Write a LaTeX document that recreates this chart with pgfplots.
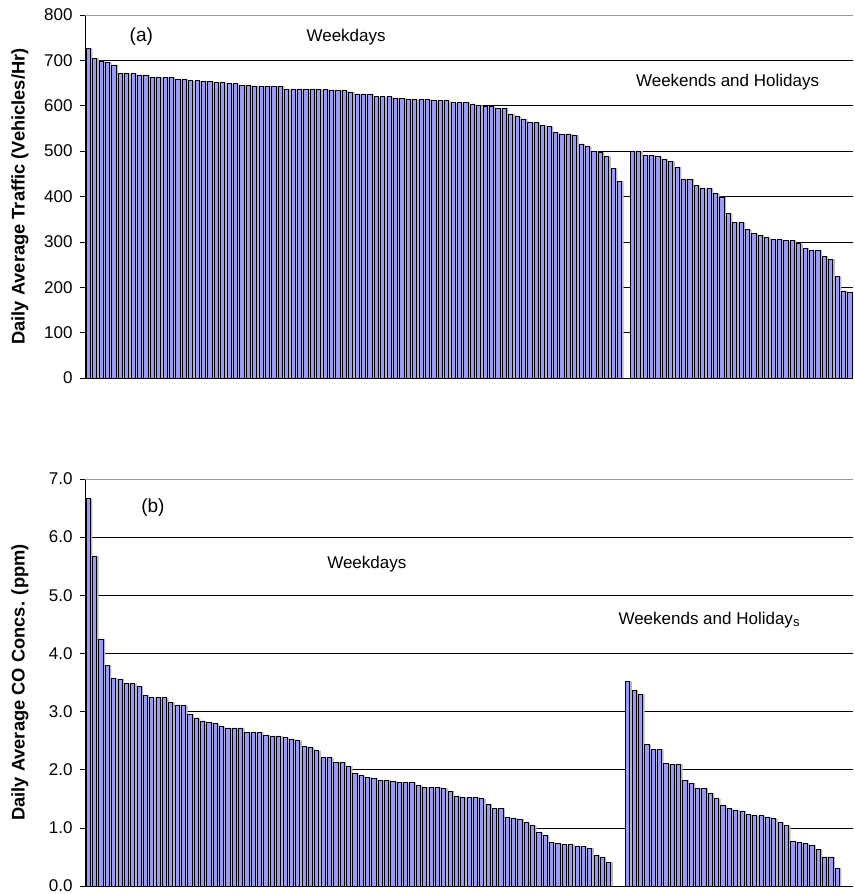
\documentclass[border=0pt]{standalone}
\usepackage{fontspec}
\setmainfont{Liberation Sans}
\usepackage{pgfplots}
\pgfplotsset{compat=1.18}
\usepackage{pgfplotstable}
\definecolor{barfill}{RGB}{153,153,255}
\definecolor{shadowc}{RGB}{185,185,185}

\pgfplotstableread{
x y
1 727
2 705
3 699
4 696
5 690
6 671
7 671
8 671
9 668
10 668
11 663
12 663
13 663
14 662
15 658
16 658
17 655
18 655
19 654
20 653
21 651
22 651
23 649
24 649
25 645
26 645
27 643
28 643
29 643
30 643
31 643
32 637
33 637
34 637
35 637
36 637
37 636
38 636
39 635
40 634
41 633
42 630
43 626
44 626
45 626
46 620
47 620
48 620
49 617
50 617
51 614
52 614
53 614
54 614
55 611
56 611
57 611
58 607
59 607
60 607
61 604
62 601
63 598
64 598
65 595
66 595
67 582
68 576
69 571
70 563
71 563
72 557
73 554
74 541
75 538
76 538
77 535
78 516
79 510
80 500
81 498
82 488
83 462
84 434
86 500
87 500
88 491
89 491
90 488
91 482
92 478
93 465
94 438
95 438
96 424
97 418
98 418
99 407
100 399
101 362
102 343
103 343
104 327
105 318
106 315
107 309
108 305
109 305
110 303
111 303
112 296
113 286
114 281
115 281
116 268
117 262
118 224
119 192
120 189
}\traffic

\pgfplotstableread{
x y
1 6.66
2 5.67
3 4.25
4 3.79
5 3.57
6 3.55
7 3.48
8 3.48
9 3.43
10 3.28
11 3.24
12 3.24
13 3.24
14 3.16
15 3.11
16 3.11
17 2.96
18 2.89
19 2.84
20 2.82
21 2.79
22 2.74
23 2.72
24 2.72
25 2.72
26 2.64
27 2.64
28 2.64
29 2.60
30 2.58
31 2.58
32 2.55
33 2.53
34 2.50
35 2.40
36 2.38
37 2.33
38 2.21
39 2.21
40 2.13
41 2.13
42 2.06
43 1.94
44 1.90
45 1.87
46 1.85
47 1.82
48 1.82
49 1.80
50 1.78
51 1.78
52 1.78
53 1.73
54 1.70
55 1.70
56 1.70
57 1.68
58 1.63
59 1.55
60 1.53
61 1.53
62 1.53
63 1.50
64 1.41
65 1.33
66 1.33
67 1.18
68 1.17
69 1.14
70 1.09
71 1.04
72 0.92
73 0.87
74 0.75
75 0.73
76 0.71
77 0.71
78 0.68
79 0.68
80 0.65
81 0.53
82 0.50
83 0.41
86 3.52
87 3.37
88 3.30
89 2.43
90 2.35
91 2.35
92 2.11
93 2.09
94 2.09
95 1.82
96 1.77
97 1.68
98 1.68
99 1.60
100 1.50
101 1.38
102 1.33
103 1.31
104 1.29
105 1.23
106 1.21
107 1.21
108 1.19
109 1.16
110 1.09
111 1.04
112 0.77
113 0.75
114 0.73
115 0.70
116 0.63
117 0.50
118 0.50
119 0.31
}\co

\pgfplotsset{
  myaxis/.style={
    scale only axis,
    anchor=south west,
    width=768pt,
    axis x line*=bottom,
    axis y line*=left,
    axis line style={black, line width=0.7pt},
    xtick=\empty,
    tick align=outside,
    major tick length=5pt,
    ytick style={black, line width=0.7pt},
    ymajorgrids,
    major grid style={black, line width=0.7pt},
    /pgf/number format/assume math mode=true,
    tick label style={font=\fontsize{17}{17}\selectfont},
    yticklabel style={xshift=-4pt},
    every axis y label/.style={at={(rel axis cs:0,0.5)}, xshift=-65pt, rotate=90, anchor=center, font=\fontsize{18.3}{19}\selectfont\bfseries},
    extra y tick style={major grid style={gray!80, line width=0.7pt}},
  },
}

\begin{document}
\begin{tikzpicture}
\path[use as bounding box] (0,0) rectangle (854pt,894pt);

% Panel (a)
\begin{axis}[myaxis,
  at={(85pt,516pt)},
  height=363pt,
  xmin=0.5, xmax=120.5,
  ymin=0, ymax=800,
  ytick={0,100,...,700},
  extra y ticks={800},
  ylabel={Daily Average Traffic (Vehicles/Hr)},
]
\addplot[ybar, bar width=4.3pt, bar shift=2.1pt, fill=shadowc, draw=none] table[x=x,y=y] {\traffic};
\addplot[ybar, bar width=4.3pt, bar shift=0pt, fill=barfill, draw=black, line width=0.6pt] table[x=x,y=y] {\traffic};
\node[font=\fontsize{19}{19}\selectfont] at (axis cs:9.3,752) {(a)};
\node[font=\fontsize{17}{17}\selectfont] at (axis cs:41.3,751) {Weekdays};
\node[font=\fontsize{17}{17}\selectfont] at (axis cs:100.9,652) {Weekends and Holidays};
\end{axis}

% Panel (b)
\begin{axis}[myaxis,
  at={(85pt,8pt)},
  height=407pt,
  xmin=0.5, xmax=121.5,
  ymin=0, ymax=7,
  ytick={0,1,...,6},
  extra y ticks={7},
  /pgf/number format/.cd, fixed, fixed zerofill, precision=1, assume math mode=true, /pgfplots/.cd,
  ylabel={Daily Average CO Concs. (ppm)},
]
\addplot[ybar, bar width=4.2pt, bar shift=2.1pt, fill=shadowc, draw=none] table[x=x,y=y] {\co};
\addplot[ybar, bar width=4.2pt, bar shift=0pt, fill=barfill, draw=black, line width=0.6pt] table[x=x,y=y] {\co};
\node[font=\fontsize{19}{19}\selectfont] at (axis cs:11.2,6.51) {(b)};
\node[font=\fontsize{17}{17}\selectfont] at (axis cs:44.9,5.54) {Weekdays};
\node[font=\fontsize{17}{17}\selectfont, anchor=west] at (axis cs:84.0,4.58) {Weekends and Holiday\raisebox{-2pt}{\fontsize{13}{13}\selectfont s}};
\end{axis}
\end{tikzpicture}
\end{document}
